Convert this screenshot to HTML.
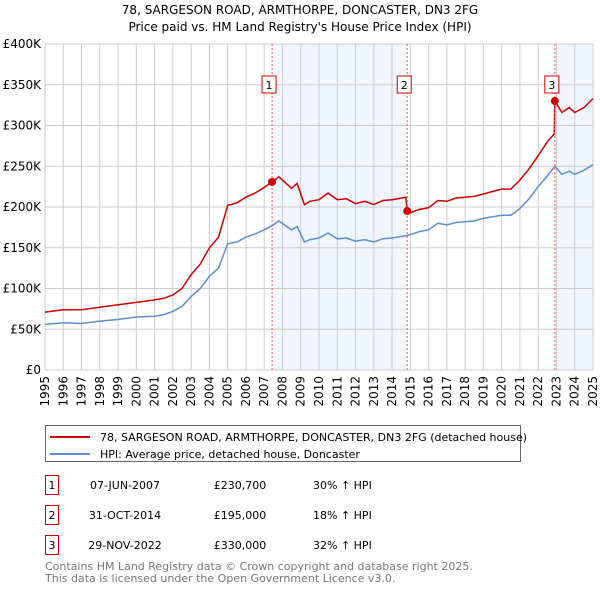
<!DOCTYPE html>
<html><head><meta charset="utf-8"><style>
body{margin:0;background:#fff;font-family:"Liberation Sans","DejaVu Sans",sans-serif;}
svg text{font-family:"DejaVu Sans","Liberation Sans",sans-serif;}
</style></head><body>
<svg id="chart" width="600" height="590" xmlns="http://www.w3.org/2000/svg">
<text x="300" y="14" text-anchor="middle" font-size="12">78, SARGESON ROAD, ARMTHORPE, DONCASTER, DN3 2FG</text>
<text x="300" y="31" text-anchor="middle" font-size="12">Price paid vs. HM Land Registry's House Price Index (HPI)</text>
<g id="shade"></g><g id="grid"></g><g id="series"></g><g id="marks"></g>
<rect x="45.5" y="425.5" width="475" height="36" fill="#fff" stroke="#666"/>
<line x1="50" y1="437" x2="90" y2="437" stroke="#cc0000" stroke-width="2"/>
<text x="100" y="441" font-size="11">78, SARGESON ROAD, ARMTHORPE, DONCASTER, DN3 2FG (detached house)</text>
<line x1="50" y1="454" x2="90" y2="454" stroke="#5b8fd0" stroke-width="2"/>
<text x="100" y="458" font-size="11">HPI: Average price, detached house, Doncaster</text>
<g id="table" font-size="11"></g>
<text x="45" y="570" font-size="11" fill="#777">Contains HM Land Registry data © Crown copyright and database right 2025.</text>
<text x="45" y="582" font-size="11" fill="#777">This data is licensed under the Open Government Licence v3.0.</text>
</svg>
<script>
const hpiYears=[1995,1996,1997,1998,1999,2000,2001,2001.5,2002,2002.5,2003,2003.5,2004,2004.5,2005,2005.5,2006,2006.5,2007,2007.43,2007.8,2008.5,2008.8,2009.2,2009.5,2010,2010.5,2011,2011.5,2012,2012.5,2013,2013.5,2014,2014.83,2015,2015.5,2016,2016.5,2017,2017.5,2018,2018.5,2019,2019.5,2020,2020.5,2021,2021.5,2022,2022.5,2022.91,2023.3,2023.7,2024,2024.5,2025];
const hpiValues=[56,58,57,60,62,65,66,68,72,78,90,100,115,125,155,157,163,167,172,177,183,172,176,157,160,162,168,161,162,158,160,157,161,162,165,166,170,172,180,178,181,182,183,186,188,190,190,198,210,225,238,250,240,244,240,245,252];
const priceYears=[1995,1996,1997,1998,1999,2000,2001,2001.5,2002,2002.5,2003,2003.5,2004,2004.5,2005,2005.5,2006,2006.5,2007,2007.43,2007.8,2008.5,2008.8,2009.2,2009.5,2010,2010.5,2011,2011.5,2012,2012.5,2013,2013.5,2014,2014.75,2014.83,2015,2015.5,2016,2016.5,2017,2017.5,2018,2018.5,2019,2019.5,2020,2020.5,2021,2021.5,2022,2022.5,2022.88,2022.91,2023.3,2023.7,2024,2024.5,2025];
const priceValues=[71,74,74,77,80,83,86,88,92,100,117,130,150,163,202,205,212,217,224,230.7,237,223,229,203,207,209,217,209,210,204,207,203,208,209,212,195,193,197,199,208,207,211,212,213,216,219,222,222,233,247,263,280,290,330,316,322,316,322,333];
const saleLabels=["1","2","3"];
const saleYears=[2007.43,2014.83,2022.91];
const saleValues=[230.7,195,330];
const saleDates=["07-JUN-2007","31-OCT-2014","29-NOV-2022"];
const salePrices=["£230,700","£195,000","£330,000"];
const saleHpi=["30% ↑ HPI","18% ↑ HPI","32% ↑ HPI"];
const yTicks=[0,50,100,150,200,250,300,350,400];
const yTickLabels=["£0","£50K","£100K","£150K","£200K","£250K","£300K","£350K","£400K"];
const xTicks=[1995,1996,1997,1998,1999,2000,2001,2002,2003,2004,2005,2006,2007,2008,2009,2010,2011,2012,2013,2014,2015,2016,2017,2018,2019,2020,2021,2022,2023,2024,2025];

const X0=45,X1=593,Y0=370,Y1=44;
const xs=y=>X0+(y-1995)/30*(X1-X0);
const ys=v=>Y0-v/400*(Y0-Y1);
const NS="http://www.w3.org/2000/svg";
function mk(p,t,a){const e=document.createElementNS(NS,t);for(const k in a)e.setAttribute(k,a[k]);p.appendChild(e);return e;}
const shade=document.getElementById('shade'),grid=document.getElementById('grid'),ser=document.getElementById('series'),marks=document.getElementById('marks'),tbl=document.getElementById('table');
[[saleYears[0],saleYears[1]],[saleYears[2],2025]].forEach((r,i)=>{
 const e=mk(shade,'rect',{x:xs(r[0]),y:Y1,width:xs(r[1])-xs(r[0]),height:Y0-Y1,fill:'#eef3fc',opacity:0.8});
 
 
});
yTicks.forEach((v,i)=>{
 const l=mk(grid,'line',{x1:X0,x2:X1,y1:ys(v),y2:ys(v),stroke:'#cccccc'});
 
 
 const t=mk(grid,'text',{x:X0-4,y:ys(v)+4,'text-anchor':'end','font-size':12});
 
 
 t.textContent=yTickLabels[i];
});
xTicks.forEach(y=>{
 const l=mk(grid,'line',{x1:xs(y),x2:xs(y),y1:Y1,y2:Y0,stroke:'#cccccc'});
 
 
 const t=mk(grid,'text',{x:0,y:0,'text-anchor':'end','font-size':12,transform:`translate(${xs(y)+4},${Y0+6}) rotate(-90)`});
 
 
 t.textContent=y;
});
function path(xa,va){return xa.map((x,i)=>(i?'L':'M')+xs(x).toFixed(1)+','+ys(va[i]).toFixed(1)).join('');}
const hp=mk(ser,'path',{d:path(hpiYears,hpiValues),fill:'none',stroke:'#5b8fd0','stroke-width':1.5});


const pp=mk(ser,'path',{d:path(priceYears,priceValues),fill:'none',stroke:'#cc0000','stroke-width':1.5});


saleYears.forEach((y,i)=>{
 const l=mk(marks,'line',{x1:xs(y),x2:xs(y),y1:Y1,y2:Y0,stroke:'#ee5555','stroke-dasharray':'2,2'});
 
 
 const c=mk(marks,'circle',{cx:xs(y),cy:ys(saleValues[i]),r:4,fill:'#cc0000'});
 
 
 const b=mk(marks,'rect',{x:xs(y)-10,y:76,width:14,height:17,fill:'#fff',stroke:'#cc0000'});
 
 
 const t=mk(marks,'text',{x:xs(y)-3,y:89,'text-anchor':'middle','font-size':11});
 
 
 t.textContent=saleLabels[i];
 const ry=475+i*30;
 const bb=mk(tbl,'rect',{x:45.5,y:ry+0.5,width:13,height:19,fill:'#fff',stroke:'#cc0000'});
 
 
 const cells=[[52,saleLabels[i],'middle','table-sale-number'],[125,saleDates[i],'middle','table-sale-date'],[240,salePrices[i],'middle','table-sale-price'],[313,saleHpi[i],'start','table-sale-hpi']];
 cells.forEach(cl=>{
  const tt=mk(tbl,'text',{x:cl[0],y:ry+14,'text-anchor':cl[2]});
  
  
  tt.textContent=cl[1];
 });
});
</script>
</body></html>
